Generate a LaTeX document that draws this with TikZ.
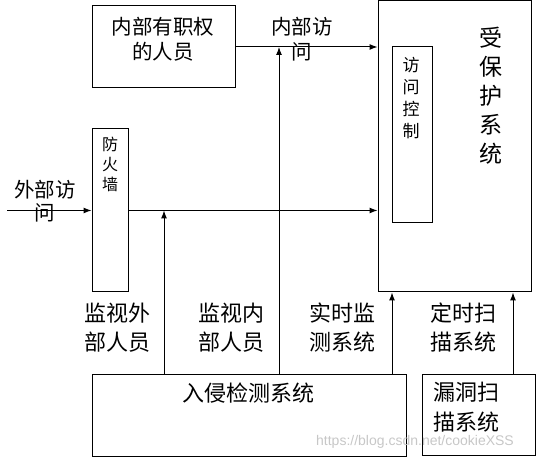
\documentclass[tikz,border=0pt]{standalone}
\usepackage{fontspec}
\newfontfamily\cjk{Noto Sans CJK SC}
\newfontfamily\wmfont{Liberation Sans}
\usetikzlibrary{arrows.meta}
\tikzset{
  box/.style={draw, line width=1pt, inner sep=0pt, rectangle},
  lbl/.style={inner sep=0pt, align=center, text=black},
  arr/.style={line width=1pt, -{Latex[length=8pt,width=6pt]}},
  fs20/.style={font=\cjk\fontsize{20.5}{25}\selectfont},
  fsb/.style={font=\cjk\fontsize{22}{29}\selectfont},
}
\begin{document}
\begin{tikzpicture}[x=1pt,y=-1pt]
\useasboundingbox (0,0) rectangle (536,457);
% boxes
\node[box, minimum width=143pt, minimum height=82pt] (staff) at (163.5,47) {};
\node[box, minimum width=153pt, minimum height=291pt] (prot) at (454.5,146.5) {};
\node[box, minimum width=40pt, minimum height=176pt] (acl) at (412,135) {};
\node[box, minimum width=36pt, minimum height=163pt] (fw) at (110,210.5) {};
\node[box, minimum width=314pt, minimum height=82pt] (ids) at (249,415) {};
\node[box, minimum width=113pt, minimum height=81pt] (scan) at (478.5,414.5) {};
% texts
\node[lbl, fs20] (tstaff) at (163,39.5) {内部有职权\\的人员};
\node[lbl, fs20] (tin) at (302,39.5) {内部访\\问};
\node[lbl, font=\cjk\fontsize{20.5}{23}\selectfont] (tout) at (45,201) {外部访\\问};
\node[lbl, font=\cjk\fontsize{16}{20}\selectfont] (tfw) at (110,164) {防\\火\\墙};
\node[lbl, font=\cjk\fontsize{17}{22}\selectfont] (tacl) at (411,98.5) {访\\问\\控\\制};
\node[lbl, font=\cjk\fontsize{23}{29}\selectfont] (tprot) at (491,95.5) {受\\保\\护\\系\\统};
\node[lbl, fsb] (tmo) at (117,327.5) {监视外\\部人员};
\node[lbl, fsb] (tmi) at (231,327.5) {监视内\\部人员};
\node[lbl, fsb] (trt) at (342,327.5) {实时监\\测系统};
\node[lbl, fsb] (tsc) at (463,327.5) {定时扫\\描系统};
\node[lbl, fsb] (tids) at (248,393) {入侵检测系统};
\node[lbl, font=\cjk\fontsize{22}{30}\selectfont] (tscan) at (466,407) {漏洞扫\\描系统};
\node[lbl, font=\wmfont\fontsize{14}{16}\selectfont, text=black!22] (wm) at (415,442) {https://blog.csdn.net/cookieXSS};
% connectors
\coordinate (ext) at (7,210.5);
\coordinate (m1) at (164,210.5);
\coordinate (m2) at (279,47);
\coordinate (m3) at (392,292);
\coordinate (m4) at (513,292);
\draw[arr] (staff.east) -- (staff.east -| prot.west);
\draw[arr] (ext) -- (fw.west);
\draw[arr] (fw.east) -- (fw.east -| prot.west);
\draw[arr] (m1 |- ids.north) -- (m1);
\draw[arr] (m2 |- ids.north) -- (m2);
\draw[arr] (m3 |- ids.north) -- (m3 |- prot.south);
\draw[arr] (m4 |- scan.north) -- (m4 |- prot.south);
\end{tikzpicture}
\end{document}
